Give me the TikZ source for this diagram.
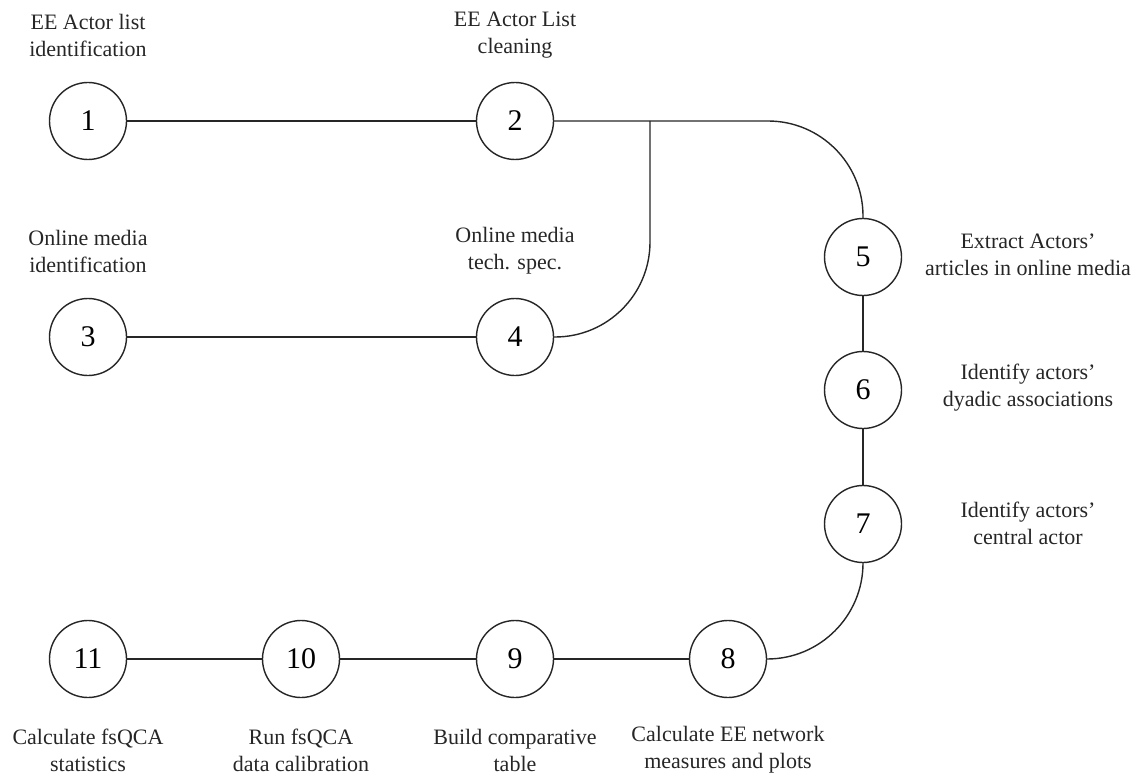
\documentclass[tikz,border=0pt]{standalone}
\usepackage{fontspec}
\setmainfont{Liberation Serif}
\begin{document}
\begin{tikzpicture}
        [x=1pt, y=-1pt,
        stage/.style={circle, draw=black!85, line width=1.4pt, minimum size=77pt, inner sep=0pt, font=\fontsize{30}{30}\selectfont},
        stagetext/.style={align=center, inner sep=0pt, text=black!85, font=\fontsize{22}{27}\selectfont},
        link/.style={draw=black!85, line width=1.4pt},]

        \useasboundingbox (0,0) rectangle (1139,778);

        % steps
        \node[stage] (s1) at (88,121) {1};
        \node[stage] (s2) at (515,121) {2};
        \node[stage] (s3) at (88,337) {3};
        \node[stage] (s4) at (515,337) {4};
        \node[stage] (s5) at (863,257) {5};
        \node[stage] (s6) at (863,390) {6};
        \node[stage] (s7) at (863,524) {7};
        \node[stage] (s8) at (728,659) {8};
        \node[stage] (s9) at (515,659) {9};
        \node[stage] (s10) at (301,659) {10};
        \node[stage] (s11) at (88,659) {11};

        % texts
        \node[stagetext] (t1) at (88,35) {EE Actor list\\identification};
        \node[stagetext] (t2) at (515,35) {EE Actor List\\cleaning};
        \node[stagetext] (t3) at (88,251) {Online media\\identification};
        \node[stagetext] (t4) at (515,251) {Online media\\tech. spec.};
        \node[stagetext] (t5) at (1028,255) {Extract Actors'\\articles in online media};
        \node[stagetext] (t6) at (1028,388) {Identify actors'\\dyadic associations};
        \node[stagetext] (t7) at (1028,523) {Identify actors'\\central actor};
        \node[stagetext] (t8) at (728,750) {Calculate EE network\\measures and plots};
        \node[stagetext] (t9) at (515,750) {Build comparative\\table};
        \node[stagetext] (t10) at (301,750) {Run fsQCA\\data calibration};
        \node[stagetext] (t11) at (88,750) {Calculate fsQCA\\statistics};

        % links
        \coordinate (fork) at (650,121);
        \draw[link] (s1) -- (s2);
        \draw[link, rounded corners=95pt] (s2.east) -| (s5.north);
        \draw[link, rounded corners=95pt] (fork) |- (s4.east);
        \draw[link] (s3) -- (s4);
        \draw[link] (s5) -- (s6);
        \draw[link] (s6) -- (s7);
        \draw[link, rounded corners=96pt] (s7.south) |- (s8.east);
        \draw[link] (s8) -- (s9);
        \draw[link] (s9) -- (s10);
        \draw[link] (s10) -- (s11);

    \end{tikzpicture}
\end{document}
